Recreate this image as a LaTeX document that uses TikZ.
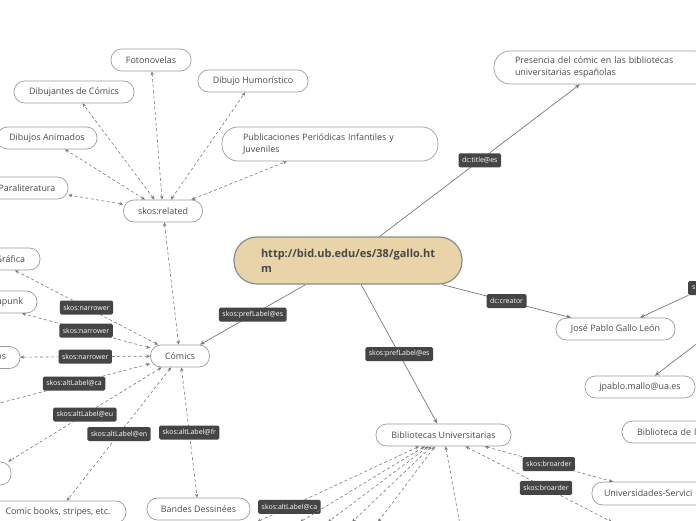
\documentclass[tikz,border=0pt]{standalone}
\usepackage{fontspec}
\setmainfont{Open Sans}
\usetikzlibrary{arrows.meta,calc}
\definecolor{edgec}{HTML}{7A7A7A}
\definecolor{bordc}{HTML}{9C9C9C}
\definecolor{txtc}{HTML}{4C4C4C}
\definecolor{labc}{HTML}{454545}
\definecolor{tanc}{HTML}{E8D4A8}
\tikzset{
 box/.style={draw=bordc, line width=0.7pt, rounded corners=10.5pt, minimum height=22pt, inner sep=0pt, fill=white, text=txtc, font=\fontsize{8.9}{12}\selectfont},
 lab/.style={fill=labc, text=white, rounded corners=1.5pt, font=\fontsize{7}{8}\selectfont, inner xsep=3.5pt, inner ysep=0pt, minimum height=14pt},
 relc/.style={draw=edgec, line width=0.6pt, dash pattern=on 3pt off 2.5pt, {Stealth[length=4pt,width=3.5pt]}-{Stealth[length=4pt,width=3.5pt]}},
 solc/.style={draw=edgec, line width=0.7pt, -{Stealth[length=5pt,width=4pt]}},
}
\begin{document}
\begin{tikzpicture}[x=1pt,y=-1pt]
\useasboundingbox (0,0) rectangle (696,520);
\fill[white] (0,0) rectangle (696,520);
\clip (0,0) rectangle (696,520);

% nodes
\node[box, minimum width=80] (fot) at (151,60) {Fotonovelas};
\node[box, minimum width=120] (dib) at (74,92) {Dibujantes de Cómics};
\node[box, minimum width=110] (hum) at (253,81) {Dibujo Humorístico};
\node[box, minimum width=100] (ani) at (47,138) {Dibujos Animados};
\node[box, minimum width=82] (par) at (27,188) {Paraliteratura};
\node[box, minimum width=216, minimum height=34, rounded corners=16pt, text width=174pt, align=left] (pub) at (330,144) {Publicaciones Periódicas Infantiles y\\Juveniles};
\node[box, minimum width=79] (rel) at (163,211) {skos:related};
\node[box, minimum width=216, minimum height=33, rounded corners=16pt, text width=174pt, align=left] (pres) at (602,67.5) {Presencia del cómic en las bibliotecas\\universitarias españolas};
\node[box, fill=tanc, draw=gray!90, line width=1.2pt, minimum width=228, minimum height=47, rounded corners=23pt, text width=174pt, align=left, text=black!72, font=\fontsize{11}{15}\selectfont\bfseries] (cen) at (348,260.5) {http://bid.ub.edu/es/38/gallo.ht\\m};
\node[box, minimum width=94, text width=64pt, align=right] (gra) at (-7,259) {Gráfica};
\node[box, minimum width=114, text width=86pt, align=right] (apk) at (-20,302) {apunk};
\node[box, minimum width=100, text width=72pt, align=right] (os) at (-30,357.5) {os};
\node[box, minimum width=44, minimum height=23] (lft) at (-11,473.5) {};
\node[box, minimum width=59] (com) at (180,356) {Cómics};
\node[box, minimum width=136] (cbk) at (58,512) {Comic books, stripes, etc.};
\node[box, minimum width=103] (ban) at (198.5,509) {Bandes Dessinées};
\node[box, minimum width=135] (bib) at (443.5,435) {Bibliotecas Universitarias};
\node[box, minimum width=119] (jose) at (615.5,329) {José Pablo Gallo León};
\node[box, minimum width=110] (mail) at (640,387) {jpablo.mallo@ua.es};
\node[box, minimum width=98, text width=68pt, align=left] (bdl) at (671,432) {Biblioteca de l};
\node[box, minimum width=128, minimum height=23, text width=104pt, align=left] (uni) at (656,493.5) {Universidades-Servici};
\node[lab, minimum width=32, text width=24pt, align=left] (slab) at (704,288) {s};

\coordinate (jx) at (720,326);
\coordinate (offca) at (-40,413.4);
\coordinate (ob1) at (612,522);
\coordinate (ob2) at (460,525);
\coordinate (ob3) at (257,522);
\coordinate (ob4) at (300,522);
\coordinate (ob5) at (328,522);
\coordinate (ob6) at (352,522);
\coordinate (ob7) at (378,522);

% solid connectors
\draw[solc] (cen) -- node[lab] (l1) {dc:title@es} (pres);
\draw[solc] (cen) -- node[lab] (l2) {skos:prefLabel@es} (com);
\draw[solc] (cen) -- node[lab] (l3) {skos:prefLabel@es} (bib);
\draw[solc] (cen) -- node[lab] (l4) {dc:creator} (jose);
\draw[solc] (slab) -- (jose);
\draw[solc] (jx) -- (mail);

% related
\draw[relc] (rel) -- (fot);
\draw[relc] (rel) -- (dib);
\draw[relc] (rel) -- (hum);
\draw[relc] (rel) -- (ani);
\draw[relc] (rel) -- (par);
\draw[relc] (rel) -- (pub);
\draw[relc] (rel) -- (com);

% comics
\draw[relc] (com) -- node[lab] (l5) {skos:narrower} (gra);
\draw[relc] (com) -- node[lab] (l6) {skos:narrower} (apk);
\draw[relc] (com) -- node[lab] (l7) {skos:narrower} (os);
\draw[relc] (com) -- node[lab, pos=0.4] (l8) {skos:altLabel@ca} (offca);
\draw[relc] (com) -- node[lab] (l9) {skos:altLabel@eu} (lft);
\draw[relc] (com) -- node[lab] (l10) {skos:altLabel@en} (cbk);
\draw[relc] (com) -- node[lab] (l11) {skos:altLabel@fr} (ban);

% bibliotecas
\draw[relc] (bib) -- node[lab] (l12) {skos:broarder} (uni);
\draw[relc] (bib) -- node[lab, pos=0.55] (l13) {skos:broarder} (ob1);
\draw[relc] (bib) -- (ob2);
\draw[relc] (bib) -- node[lab, pos=0.8] (l14) {skos:altLabel@ca} (ob3);
\draw[relc] (bib) -- (ob4);
\draw[relc] (bib) -- (ob5);
\draw[relc] (bib) -- (ob6);
\draw[relc] (bib) -- (ob7);
\end{tikzpicture}
\end{document}
